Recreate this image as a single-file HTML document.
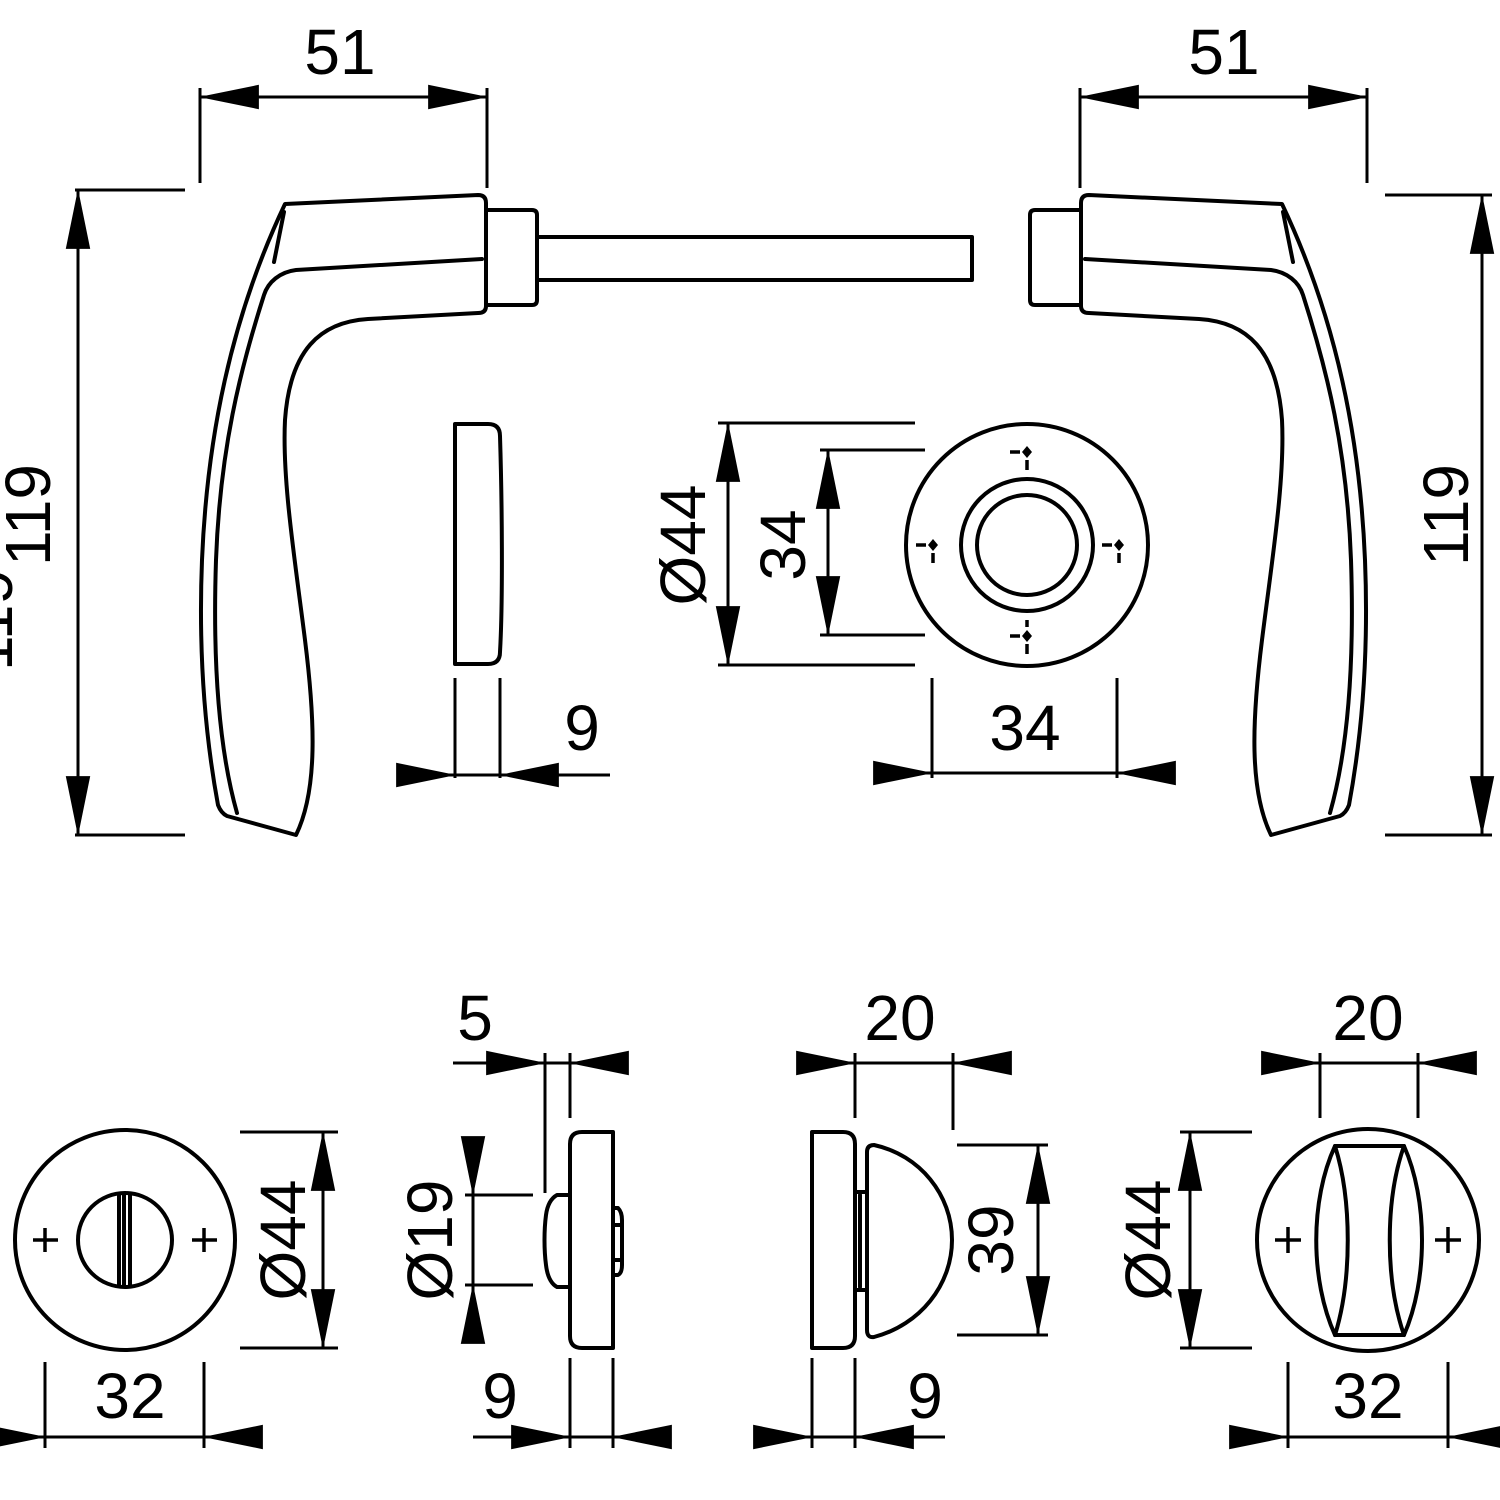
<!DOCTYPE html>
<html><head><meta charset="utf-8"><style>
html,body{margin:0;padding:0;background:#fff;}
svg{display:block;}
text{font-family:"Liberation Sans",sans-serif;font-size:64px;fill:#000;}
</style></head><body>
<svg width="1500" height="1500" viewBox="0 0 1500 1500" xmlns="http://www.w3.org/2000/svg">
<defs>
<marker id="a" markerUnits="userSpaceOnUse" markerWidth="60" markerHeight="30" viewBox="0 -12 54 24" refX="53" refY="0" orient="auto-start-reverse">
<path d="M0,-11 L54,0 L0,11 Z" fill="#000"/>
</marker>
</defs>

<g fill="none" stroke="#000" stroke-width="4" stroke-linejoin="round" stroke-linecap="round">
<g id="h">
<path d="M285,204 L478,195 Q486,195 486,203 L486,306 Q486,313 478,313 L368,319 C320,322 290,350 285,420 C282,480 295,560 305,640 C315,720 318,790 296,835 L227,816 Q221,813 218,805 C206,740 198,660 202,560 C207,440 230,320 285,204 Z"/>
<path d="M482,259 L296,270 C280,272 268,282 264,295 C240,370 220,450 216,560 C212,680 222,760 237,813"/>
<path d="M284,212 L274,262"/>
<path d="M486,210 L532,210 Q537,210 537,215 L537,300 Q537,305 532,305 L486,305"/>
</g>
<use href="#h" transform="translate(1567,0) scale(-1,1)"/>
<path d="M537,237 L972,237 L972,280 L537,280"/>
<path d="M455,424 L488,424 Q500,424 500,436 C502,500 503,600 500,652 Q500,664 488,664 L455,664 Z"/>
<circle cx="1027" cy="545" r="121"/>
<circle cx="1027" cy="545" r="66"/>
<circle cx="1027" cy="545" r="50"/>

<circle cx="125" cy="1240" r="110"/>
<circle cx="125" cy="1240" r="47"/>
<path d="M119,1195 L119,1285 M124,1194 L124,1286 M130,1195 L130,1285"/>

<path d="M582,1132 L613,1132 L613,1348 L582,1348 Q570,1348 570,1336 L570,1144 Q570,1132 582,1132 Z"/>
<path d="M568,1195 L557,1195 Q548,1200 546,1215 C544,1230 544,1250 546,1265 Q548,1282 557,1287 L568,1287"/>
<path d="M613,1208 L618,1208 Q622,1212 622,1220 L622,1265 Q622,1273 618,1275 L613,1275 M613,1225 L620,1225 M613,1260 L620,1260"/>

<path d="M812,1132 L843,1132 Q855,1132 855,1144 L855,1336 Q855,1348 843,1348 L812,1348 Z"/>
<path d="M874,1145 C920,1155 952,1195 952,1240 C952,1285 920,1325 874,1337 Q867,1338 867,1330 L867,1152 Q867,1145 874,1145 Z"/>
<path d="M855,1192 L867,1192 L867,1290 L855,1290 M860,1195 L860,1287"/>

<circle cx="1368" cy="1240" r="111"/>
<path d="M1335,1146 L1404,1146 M1335,1335 L1404,1335"/>
<path d="M1335,1146 C1310,1200 1310,1280 1335,1335 C1352,1280 1352,1200 1335,1146 Z"/>
<path d="M1404,1146 C1428,1200 1428,1280 1404,1335 C1385,1280 1385,1200 1404,1146 Z"/>
</g>

<g stroke="#000" stroke-width="3.5" fill="none">
<path d="M33,1240 L58,1240 M45,1228 L45,1252"/>
<path d="M192,1240 L217,1240 M204,1228 L204,1252"/>
<path d="M1275,1240 L1301,1240 M1288,1227 L1288,1253"/>
<path d="M1435,1240 L1461,1240 M1448,1227 L1448,1253"/>
<path d="M1010,452 L1020,452 M1027,460 L1027,470"/>
<path d="M1010,636 L1020,636 M1027,644 L1027,654 M1027,620 L1027,627"/>
<path d="M916,545 L926,545 M933,553 L933,563"/>
<path d="M1102,545 L1112,545 M1119,553 L1119,563"/>
</g>
<g fill="#000">
<path d="M1027,446 L1032,452 L1027,458 L1022,452 Z"/>
<path d="M1027,630 L1032,636 L1027,642 L1022,636 Z"/>
<path d="M933,539 L938,545 L933,551 L928,545 Z"/>
<path d="M1119,539 L1124,545 L1119,551 L1114,545 Z"/>
</g>

<g stroke="#000" stroke-width="3" fill="none">
<line x1="200" y1="88" x2="200" y2="183"/><line x1="487" y1="88" x2="487" y2="188"/>
<line x1="200" y1="97" x2="487" y2="97" marker-start="url(#a)" marker-end="url(#a)"/>
<line x1="1080" y1="88" x2="1080" y2="188"/><line x1="1367" y1="88" x2="1367" y2="183"/>
<line x1="1080" y1="97" x2="1367" y2="97" marker-start="url(#a)" marker-end="url(#a)"/>
<line x1="75" y1="190" x2="185" y2="190"/><line x1="75" y1="835" x2="185" y2="835"/>
<line x1="78" y1="190" x2="78" y2="835" marker-start="url(#a)" marker-end="url(#a)"/>
<line x1="1385" y1="195" x2="1492" y2="195"/><line x1="1385" y1="835" x2="1492" y2="835"/>
<line x1="1482" y1="195" x2="1482" y2="835" marker-start="url(#a)" marker-end="url(#a)"/>
<line x1="455" y1="678" x2="455" y2="778"/><line x1="500" y1="678" x2="500" y2="778"/>
<line x1="400" y1="775" x2="610" y2="775"/>
<line x1="400" y1="775" x2="455" y2="775" marker-end="url(#a)"/>
<line x1="555" y1="775" x2="500" y2="775" marker-end="url(#a)"/>
<line x1="718" y1="423" x2="915" y2="423"/><line x1="718" y1="665" x2="915" y2="665"/>
<line x1="728" y1="423" x2="728" y2="665" marker-start="url(#a)" marker-end="url(#a)"/>
<line x1="820" y1="450" x2="925" y2="450"/><line x1="820" y1="635" x2="925" y2="635"/>
<line x1="828" y1="450" x2="828" y2="635" marker-start="url(#a)" marker-end="url(#a)"/>
<line x1="932" y1="678" x2="932" y2="778"/><line x1="1117" y1="678" x2="1117" y2="778"/>
<line x1="880" y1="773" x2="1168" y2="773"/>
<line x1="880" y1="773" x2="932" y2="773" marker-end="url(#a)"/>
<line x1="1168" y1="773" x2="1117" y2="773" marker-end="url(#a)"/>

<line x1="240" y1="1132" x2="338" y2="1132"/><line x1="240" y1="1348" x2="338" y2="1348"/>
<line x1="323" y1="1132" x2="323" y2="1348" marker-start="url(#a)" marker-end="url(#a)"/>
<line x1="45" y1="1362" x2="45" y2="1448"/><line x1="204" y1="1362" x2="204" y2="1448"/>
<line x1="0" y1="1437" x2="255" y2="1437"/>
<line x1="-5" y1="1437" x2="45" y2="1437" marker-end="url(#a)"/>
<line x1="255" y1="1437" x2="204" y2="1437" marker-end="url(#a)"/>
<line x1="545" y1="1053" x2="545" y2="1193"/><line x1="570" y1="1053" x2="570" y2="1118"/>
<line x1="453" y1="1063" x2="620" y2="1063"/>
<line x1="493" y1="1063" x2="545" y2="1063" marker-end="url(#a)"/>
<line x1="620" y1="1063" x2="570" y2="1063" marker-end="url(#a)"/>
<line x1="465" y1="1195" x2="533" y2="1195"/><line x1="465" y1="1285" x2="533" y2="1285"/>
<line x1="473" y1="1147" x2="473" y2="1335"/>
<line x1="473" y1="1145" x2="473" y2="1195" marker-end="url(#a)"/>
<line x1="473" y1="1336" x2="473" y2="1285" marker-end="url(#a)"/>
<line x1="570" y1="1358" x2="570" y2="1448"/><line x1="613" y1="1358" x2="613" y2="1448"/>
<line x1="473" y1="1437" x2="665" y2="1437"/>
<line x1="518" y1="1437" x2="570" y2="1437" marker-end="url(#a)"/>
<line x1="665" y1="1437" x2="613" y2="1437" marker-end="url(#a)"/>
<line x1="855" y1="1053" x2="855" y2="1118"/><line x1="953" y1="1053" x2="953" y2="1130"/>
<line x1="805" y1="1063" x2="1003" y2="1063"/>
<line x1="805" y1="1063" x2="855" y2="1063" marker-end="url(#a)"/>
<line x1="1003" y1="1063" x2="953" y2="1063" marker-end="url(#a)"/>
<line x1="957" y1="1145" x2="1048" y2="1145"/><line x1="957" y1="1335" x2="1048" y2="1335"/>
<line x1="1038" y1="1145" x2="1038" y2="1335" marker-start="url(#a)" marker-end="url(#a)"/>
<line x1="812" y1="1358" x2="812" y2="1448"/><line x1="855" y1="1358" x2="855" y2="1448"/>
<line x1="760" y1="1437" x2="945" y2="1437"/>
<line x1="760" y1="1437" x2="812" y2="1437" marker-end="url(#a)"/>
<line x1="905" y1="1437" x2="855" y2="1437" marker-end="url(#a)"/>
<line x1="1180" y1="1132" x2="1252" y2="1132"/><line x1="1180" y1="1348" x2="1252" y2="1348"/>
<line x1="1190" y1="1132" x2="1190" y2="1348" marker-start="url(#a)" marker-end="url(#a)"/>
<line x1="1320" y1="1053" x2="1320" y2="1118"/><line x1="1418" y1="1053" x2="1418" y2="1118"/>
<line x1="1268" y1="1063" x2="1468" y2="1063"/>
<line x1="1268" y1="1063" x2="1320" y2="1063" marker-end="url(#a)"/>
<line x1="1468" y1="1063" x2="1418" y2="1063" marker-end="url(#a)"/>
<line x1="1288" y1="1362" x2="1288" y2="1448"/><line x1="1448" y1="1362" x2="1448" y2="1448"/>
<line x1="1238" y1="1437" x2="1505" y2="1437"/>
<line x1="1238" y1="1437" x2="1288" y2="1437" marker-end="url(#a)"/>
<line x1="1500" y1="1437" x2="1448" y2="1437" marker-end="url(#a)"/>
</g>

<text x="340" y="74" text-anchor="middle">51</text>
<text x="1224" y="74" text-anchor="middle">51</text>
<text transform="translate(50,515) rotate(-90)" text-anchor="middle">119</text>
<text transform="translate(12,620) rotate(-90)" text-anchor="middle">119</text>
<text transform="translate(1468,515) rotate(-90)" text-anchor="middle">119</text>
<text x="582" y="750" text-anchor="middle">9</text>
<text transform="translate(705,545) rotate(-90)" text-anchor="middle">Ø44</text>
<text transform="translate(805,545) rotate(-90)" text-anchor="middle">34</text>
<text x="1025" y="750" text-anchor="middle">34</text>
<text transform="translate(305,1240) rotate(-90)" text-anchor="middle">Ø44</text>
<text x="130" y="1418" text-anchor="middle">32</text>
<text x="475" y="1040" text-anchor="middle">5</text>
<text transform="translate(452,1240) rotate(-90)" text-anchor="middle">Ø19</text>
<text x="500" y="1418" text-anchor="middle">9</text>
<text x="900" y="1040" text-anchor="middle">20</text>
<text transform="translate(1013,1240) rotate(-90)" text-anchor="middle">39</text>
<text x="925" y="1418" text-anchor="middle">9</text>
<text transform="translate(1170,1240) rotate(-90)" text-anchor="middle">Ø44</text>
<text x="1368" y="1040" text-anchor="middle">20</text>
<text x="1368" y="1418" text-anchor="middle">32</text>
</svg>
</body></html>
